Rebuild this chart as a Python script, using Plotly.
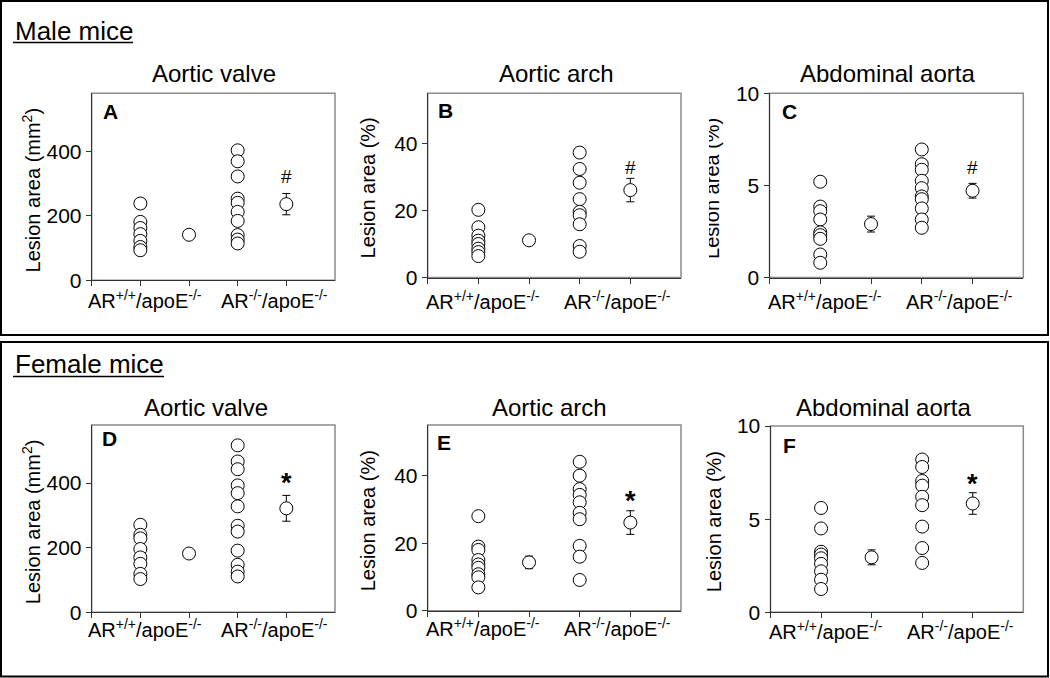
import plotly.graph_objects as go

W, H = 1050, 678

# ---------------- data ----------------
groups = ["AR<sup>+/+</sup>/apoE<sup>-/-</sup>", "AR<sup>-/-</sup>/apoE<sup>-/-</sup>"]
panel_letters = ["A", "B", "C", "D", "E", "F"]
panel_titles = ["Aortic valve", "Aortic arch", "Abdominal aorta",
                "Aortic valve", "Aortic arch", "Abdominal aorta"]
y_titles = ["Lesion area (mm<sup>2</sup>)", "Lesion area (%)", "Lesion area (%)",
            "Lesion area (mm<sup>2</sup>)", "Lesion area (%)", "Lesion area (%)"]
sig_marks = ["#", "#", "#", "*", "*", "*"]

# Male: aortic valve (mm2)
A_wt = [238, 181, 162, 143, 122, 103, 93]
A_wt_mean, A_wt_sem = 141, 10
A_ko = [403, 369, 322, 253, 240, 212, 184, 140, 126, 114]
A_ko_mean, A_ko_sem = 236, 33
A_sig = 322

# Male: aortic arch (%)
B_wt = [20.2, 15.0, 12.5, 11.0, 10.0, 8.6, 7.6, 6.4]
B_wt_mean, B_wt_sem = 11.1, 1.0
B_ko = [37.3, 32.4, 28.3, 23.4, 19.6, 18.6, 15.9, 9.4, 7.7]
B_ko_mean, B_ko_sem = 26.1, 3.5
B_sig = 32.8

# Male: abdominal aorta (%)
C_wt = [5.2, 3.85, 3.6, 3.15, 2.45, 2.3, 2.1, 1.25, 0.8]
C_wt_mean, C_wt_sem = 2.9, 0.43
C_ko = [6.95, 6.15, 5.85, 5.25, 4.85, 4.4, 4.25, 3.75, 3.15, 2.7]
C_ko_mean, C_ko_sem = 4.71, 0.4
C_sig = 5.98

# Female: aortic valve (mm2)
D_wt = [271, 240, 229, 196, 170, 150, 119, 103]
D_wt_mean, D_wt_sem = 182, 12
D_ko = [517, 467, 443, 393, 369, 328, 268, 250, 191, 147, 126, 111]
D_ko_mean, D_ko_sem = 322, 40
D_sig = 422

# Female: aortic arch (%)
E_wt = [28, 19, 18, 15, 13.7, 12.7, 10.8, 9.9, 6.9]
E_wt_mean, E_wt_sem = 14.3, 1.85
E_ko = [44.1, 40, 36, 34.3, 32.1, 29, 27.1, 19.2, 16, 9.1]
E_ko_mean, E_ko_sem = 26.1, 3.5
E_sig = 34.6

# Female: abdominal aorta (%)
F_wt = [5.6, 4.5, 3.25, 3.1, 2.9, 2.6, 2.2, 1.75, 1.25]
F_wt_mean, F_wt_sem = 2.95, 0.4
F_ko = [8.2, 7.8, 7.05, 6.8, 6.2, 5.75, 4.6, 3.45, 2.65]
F_ko_mean, F_ko_sem = 5.84, 0.58
F_sig = 7.28

y_ranges = [[0, 580], [0, 55], [0, 10], [0, 580], [0, 55], [0, 10]]
y_ticks = [[0, 200, 400], [0, 20, 40], [0, 5, 10], [0, 200, 400], [0, 20, 40], [0, 5, 10]]

panels = [
    (A_wt, A_wt_mean, A_wt_sem, A_ko, A_ko_mean, A_ko_sem, A_sig),
    (B_wt, B_wt_mean, B_wt_sem, B_ko, B_ko_mean, B_ko_sem, B_sig),
    (C_wt, C_wt_mean, C_wt_sem, C_ko, C_ko_mean, C_ko_sem, C_sig),
    (D_wt, D_wt_mean, D_wt_sem, D_ko, D_ko_mean, D_ko_sem, D_sig),
    (E_wt, E_wt_mean, E_wt_sem, E_ko, E_ko_mean, E_ko_sem, E_sig),
    (F_wt, F_wt_mean, F_wt_sem, F_ko, F_ko_mean, F_ko_sem, F_sig),
]

# ---------------- layout geometry (pixels) ----------------
def px(x):
    return x / W

def py(y):
    return 1 - y / H

boxes = [  # left, right, top, bottom
    (91.7, 335.0, 93.3, 280.2),
    (427.7, 681.0, 93.3, 277.5),
    (769.5, 1023.3, 93.3, 277.5),
    (91.7, 335.0, 425.0, 612.3),
    (427.7, 681.0, 425.0, 610.7),
    (770.5, 1023.3, 426.0, 612.3),
]
title_pos = [(214, 73.5), (556, 73.5), (887, 73.5), (206, 407), (549, 407), (883, 407)]
letter_pos = [(110, 111.7), (445, 110.5), (789, 111.7), (109, 438), (444, 442.5), (789, 445)]
ytitle_pos = [31.7, 368, 712.5, 31.5, 367.5, 714]
catlabel_y = [299, 300, 300, 628, 627, 630]

FONT = "Liberation Sans, Arial, sans-serif"
fig = go.Figure()
annotations = []
shapes = []

for i, (wt, wtm, wts, ko, kom, kos, sig) in enumerate(panels):
    n = "" if i == 0 else str(i + 1)
    xa, ya = "x" + n, "y" + n
    l, r, t, b = boxes[i]
    # individual points
    fig.add_trace(go.Scatter(
        x=[1] * len(wt) + [3] * len(ko), y=wt + ko, xaxis=xa, yaxis=ya,
        mode="markers", showlegend=False, hoverinfo="y",
        marker=dict(symbol="circle", size=13, color="white",
                    line=dict(color="black", width=1))))
    # means with SEM
    fig.add_trace(go.Scatter(
        x=[2, 4], y=[wtm, kom], xaxis=xa, yaxis=ya, mode="markers",
        showlegend=False, hoverinfo="y",
        error_y=dict(type="data", array=[wts, kos], visible=True,
                     color="black", thickness=1, width=4),
        marker=dict(symbol="circle", size=13, color="white",
                    line=dict(color="black", width=1))))
    fig.layout["xaxis" + n] = dict(
        domain=[px(l), px(r)], range=[0, 5], anchor=ya, automargin=False,
        tickvals=[0, 1, 2, 3, 4], showticklabels=False, ticks="outside",
        ticklen=5, tickcolor="#333333", showline=True, linecolor="#333333",
        linewidth=1, showgrid=False, zeroline=False, fixedrange=True)
    fig.layout["yaxis" + n] = dict(
        domain=[py(b), py(t)], range=y_ranges[i], anchor=xa, automargin=False,
        tickvals=y_ticks[i], ticks="outside", ticklen=5, tickcolor="#333333",
        showline=True, linecolor="#333333", linewidth=1, showgrid=False,
        zeroline=False, fixedrange=True,
        tickfont=dict(family=FONT, size=21, color="black"))
    # gray frame
    shapes.append(dict(type="rect", xref=xa + " domain", yref=ya + " domain",
                       x0=0, x1=1, y0=0, y1=1, layer="below",
                       line=dict(color="#8c8c8c", width=1.5)))
    # category labels
    for gx, gtxt in zip([1.1, 3.75], groups):
        annotations.append(dict(x=gx, y=py(catlabel_y[i]), xref=xa, yref="paper",
                                text=gtxt, showarrow=False, xanchor="center",
                                yanchor="middle",
                                font=dict(family=FONT, size=20, color="black")))
    # significance mark
    if sig_marks[i] == "#":
        annotations.append(dict(x=4, y=sig, xref=xa, yref=ya, text="#",
                                showarrow=False, yanchor="middle",
                                font=dict(family=FONT, size=19, color="black")))
    else:
        annotations.append(dict(x=4, y=sig, xref=xa, yref=ya, text="<b>*</b>",
                                showarrow=False, yanchor="middle", yshift=-7,
                                font=dict(family=FONT, size=27, color="black")))
    # panel title
    tx, ty = title_pos[i]
    annotations.append(dict(x=px(tx), y=py(ty), xref="paper", yref="paper",
                            text=panel_titles[i], showarrow=False,
                            xanchor="center", yanchor="middle",
                            font=dict(family=FONT, size=24, color="black")))
    # panel letter
    lx, ly = letter_pos[i]
    annotations.append(dict(x=px(lx), y=py(ly), xref="paper", yref="paper",
                            text="<b>" + panel_letters[i] + "</b>", showarrow=False,
                            xanchor="center", yanchor="middle",
                            font=dict(family=FONT, size=21, color="black")))
    # y-axis title
    annotations.append(dict(x=px(ytitle_pos[i]), y=py((t + b) / 2 + 3), xref="paper",
                            yref="paper", text=y_titles[i], showarrow=False,
                            textangle=-90, xanchor="center", yanchor="middle",
                            font=dict(family=FONT, size=20, color="black")))

# mask that clips the left edge of panel C's y title, as in the reference
annotations.append(dict(x=px(703.5), y=py(185), xref="paper", yref="paper",
                        text=" ", showarrow=False, width=10, height=160,
                        bgcolor="white", borderpad=0, borderwidth=0,
                        xanchor="center", yanchor="middle"))

# section headings
annotations.append(dict(x=px(13), y=py(31), xref="paper", yref="paper",
                        text="Male mice", showarrow=False, xanchor="left",
                        yanchor="middle", font=dict(family=FONT, size=26, color="black")))
annotations.append(dict(x=px(13), y=py(364), xref="paper", yref="paper",
                        text="Female mice", showarrow=False, xanchor="left",
                        yanchor="middle", font=dict(family=FONT, size=26, color="black")))
shapes.append(dict(type="line", xref="paper", yref="paper", x0=px(13), x1=px(133),
                   y0=py(42.5), y1=py(42.5), line=dict(color="black", width=1.5)))
shapes.append(dict(type="line", xref="paper", yref="paper", x0=px(13), x1=px(164),
                   y0=py(376.5), y1=py(376.5), line=dict(color="black", width=1.5)))

# outer section boxes
shapes.append(dict(type="rect", xref="paper", yref="paper", x0=px(1), x1=px(1048),
                   y0=py(335), y1=py(1), line=dict(color="black", width=2)))
shapes.append(dict(type="rect", xref="paper", yref="paper", x0=px(1), x1=px(1048),
                   y0=py(676.5), y1=py(342), line=dict(color="black", width=2)))

fig.update_layout(width=W, height=H, margin=dict(l=0, r=0, t=0, b=0, pad=0,
                                                 autoexpand=False),
                  template="none",
                  paper_bgcolor="white", plot_bgcolor="white",
                  annotations=annotations, shapes=shapes,
                  font=dict(family=FONT, color="black"))

# pin the figure to the window's top-left corner (no page margin / scroll)
pin = ("document.documentElement.style.margin='0';"
       "document.body.style.margin='0';document.body.style.padding='0';"
       "document.body.style.overflow='hidden';"
       "var d=document.getElementById('{plot_id}');"
       "d.style.position='fixed';d.style.left='0px';d.style.top='0px';")

fig.write_html("out.html", config={"displayModeBar": False}, post_script=pin)
